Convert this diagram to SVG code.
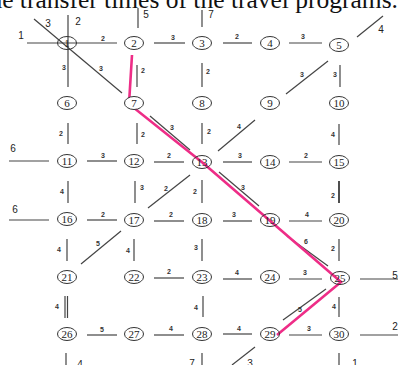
<svg xmlns="http://www.w3.org/2000/svg" width="398" height="365" viewBox="0 0 398 365">
<style>
.e{stroke:#444;stroke-width:1.2;fill:none}
.ed{stroke:#222;stroke-width:1.6;fill:none}
.n ellipse{fill:#fff;stroke:#333;stroke-width:1}
.n text{font-family:"Liberation Serif",serif;font-size:11px;fill:#222;text-anchor:middle}
.s{font-family:"Liberation Sans",sans-serif;font-size:7px;font-weight:bold;fill:#333;text-anchor:middle}
.o{font-family:"Liberation Sans",sans-serif;font-size:10px;fill:#222;text-anchor:middle}
.t{font-family:"Liberation Serif",serif;font-size:25.5px;fill:#111}
.p{stroke:#ee2d87;stroke-width:2.6;fill:none;stroke-linejoin:miter}
</style>
<rect width="398" height="365" fill="#fff"/>
<text class="t" x="398" y="8" text-anchor="end">the transfer times of the travel programs.</text>
<g id="connectors">
<line class="e" x1="27" y1="43" x2="117" y2="43"/>
<line class="e" x1="154" y1="43" x2="185" y2="43"/>
<line class="e" x1="223" y1="43" x2="252" y2="43"/>
<line class="e" x1="289" y1="43" x2="322" y2="43"/>
<line class="e" x1="9" y1="161" x2="49" y2="161"/>
<line class="e" x1="87" y1="161" x2="117" y2="161"/>
<line class="e" x1="154" y1="162" x2="184" y2="162"/>
<line class="e" x1="223" y1="162" x2="252" y2="162"/>
<line class="e" x1="289" y1="162" x2="322" y2="162"/>
<line class="e" x1="9" y1="220" x2="49" y2="220"/>
<line class="e" x1="87" y1="220" x2="117" y2="220"/>
<line class="e" x1="154" y1="221" x2="184" y2="221"/>
<line class="e" x1="223" y1="221" x2="252" y2="221"/>
<line class="e" x1="289" y1="221" x2="322" y2="221"/>
<line class="e" x1="154" y1="278" x2="184" y2="278"/>
<line class="e" x1="223" y1="279" x2="252" y2="279"/>
<line class="e" x1="289" y1="279" x2="322" y2="279"/>
<line class="e" x1="360" y1="279" x2="398" y2="279"/>
<line class="e" x1="87" y1="335" x2="117" y2="335"/>
<line class="e" x1="154" y1="335" x2="184" y2="335"/>
<line class="e" x1="223" y1="334" x2="252" y2="334"/>
<line class="e" x1="289" y1="335" x2="322" y2="335"/>
<line class="e" x1="360" y1="335" x2="398" y2="335"/>
<line class="e" x1="68" y1="15" x2="68" y2="87"/>
<line class="e" x1="138" y1="8" x2="138" y2="28"/>
<line class="e" x1="202" y1="10" x2="202" y2="27"/>
<line class="e" x1="137" y1="65" x2="137" y2="87"/>
<line class="e" x1="202" y1="63" x2="202" y2="87"/>
<line class="e" x1="340" y1="65" x2="340" y2="87"/>
<line class="e" x1="68" y1="123" x2="68" y2="144"/>
<line class="e" x1="137" y1="123" x2="137" y2="144"/>
<line class="e" x1="202" y1="123" x2="202" y2="144"/>
<line class="e" x1="339" y1="124" x2="339" y2="145"/>
<line class="e" x1="68" y1="181" x2="68" y2="203"/>
<line class="e" x1="135" y1="181" x2="135" y2="203"/>
<line class="e" x1="202" y1="180" x2="202" y2="203"/>
<line class="ed" x1="339" y1="181" x2="339" y2="203"/>
<line class="e" x1="67" y1="239" x2="67" y2="261"/>
<line class="e" x1="134" y1="239" x2="134" y2="261"/>
<line class="e" x1="202" y1="239" x2="202" y2="261"/>
<line class="e" x1="339" y1="239" x2="339" y2="261"/>
<line class="e" x1="65" y1="296" x2="65" y2="318"/>
<line class="e" x1="67.5" y1="296" x2="67.5" y2="318"/>
<line class="e" x1="203" y1="296" x2="203" y2="317"/>
<line class="e" x1="339" y1="297" x2="339" y2="317"/>
<line class="e" x1="66" y1="353" x2="66" y2="365"/>
<line class="e" x1="202" y1="353" x2="202" y2="365"/>
<line class="e" x1="339" y1="353" x2="339" y2="365"/>
<line class="e" x1="34" y1="19" x2="122" y2="93"/>
<line class="e" x1="357" y1="37" x2="383" y2="16"/>
<line class="e" x1="328" y1="61" x2="286" y2="94"/>
<line class="e" x1="218" y1="151" x2="255" y2="120"/>
<line class="e" x1="150" y1="116" x2="190" y2="150"/>
<line class="e" x1="190" y1="175" x2="148" y2="208"/>
<line class="e" x1="219" y1="172" x2="259" y2="206"/>
<line class="e" x1="81" y1="264" x2="121" y2="231"/>
<line class="e" x1="287" y1="236" x2="328" y2="266"/>
<line class="e" x1="326" y1="289" x2="283" y2="320"/>
<line class="e" x1="255" y1="347" x2="232" y2="365"/>
<polyline class="p" points="132,55 129,104 203,163 341,282 277,335"/>
<text class="s" x="103" y="41">2</text>
<text class="s" x="173" y="40">3</text>
<text class="s" x="237" y="39">2</text>
<text class="s" x="303" y="39">3</text>
<text class="s" x="103" y="158">3</text>
<text class="s" x="169" y="158">2</text>
<text class="s" x="240" y="158">3</text>
<text class="s" x="306" y="158">2</text>
<text class="s" x="103" y="217">2</text>
<text class="s" x="171" y="217">2</text>
<text class="s" x="234" y="217">3</text>
<text class="s" x="307" y="217">4</text>
<text class="s" x="169" y="274">2</text>
<text class="s" x="237" y="275">4</text>
<text class="s" x="305" y="275">3</text>
<text class="s" x="102" y="332">5</text>
<text class="s" x="171" y="331">4</text>
<text class="s" x="239" y="331">4</text>
<text class="s" x="309" y="331">3</text>
<text class="s" x="64" y="70">3</text>
<text class="s" x="143" y="73">2</text>
<text class="s" x="208" y="74">2</text>
<text class="s" x="335" y="77">3</text>
<text class="s" x="61" y="136">2</text>
<text class="s" x="143" y="137">2</text>
<text class="s" x="209" y="134">2</text>
<text class="s" x="333" y="137">4</text>
<text class="s" x="62" y="194">4</text>
<text class="s" x="142" y="190">3</text>
<text class="s" x="195" y="194">2</text>
<text class="s" x="333" y="198">2</text>
<text class="s" x="59" y="252">4</text>
<text class="s" x="128" y="253">4</text>
<text class="s" x="196" y="250">3</text>
<text class="s" x="333" y="251">2</text>
<text class="s" x="57" y="309">4</text>
<text class="s" x="196" y="310">4</text>
<text class="s" x="334" y="309">4</text>
<text class="s" x="101" y="71">3</text>
<text class="s" x="302" y="77">3</text>
<text class="s" x="239" y="129">4</text>
<text class="s" x="172" y="130">3</text>
<text class="s" x="166" y="191">2</text>
<text class="s" x="243" y="190">3</text>
<text class="s" x="98" y="246">5</text>
<text class="s" x="306" y="244">6</text>
<text class="s" x="300" y="312">5</text>
<text class="o" x="21" y="39">1</text>
<text class="o" x="48" y="27">3</text>
<text class="o" x="78" y="25">2</text>
<text class="o" x="146" y="18">5</text>
<text class="o" x="211" y="18">7</text>
<text class="o" x="381" y="33">4</text>
<text class="o" x="13" y="152">6</text>
<text class="o" x="15" y="213">6</text>
<text class="o" x="395" y="279">5</text>
<text class="o" x="395" y="330">2</text>
<text class="o" x="80" y="368">4</text>
<text class="o" x="192" y="367">7</text>
<text class="o" x="250" y="367">3</text>
<text class="o" x="355" y="367">1</text>
</g>
<g id="n1" class="n"><ellipse cx="67" cy="43" rx="9.5" ry="6.5" fill-opacity="0"/><text x="67" y="47">1</text></g>
<g id="n2" class="n"><ellipse cx="134" cy="43" rx="9.5" ry="6.5"/><text x="134" y="47">2</text></g>
<g id="n3" class="n"><ellipse cx="202" cy="43" rx="9.5" ry="6.5"/><text x="202" y="47">3</text></g>
<g id="n4" class="n"><ellipse cx="270" cy="43" rx="9.5" ry="6.5"/><text x="270" y="47">4</text></g>
<g id="n5" class="n"><ellipse cx="339" cy="45" rx="9.5" ry="6.5"/><text x="339" y="49">5</text></g>
<g id="n6" class="n"><ellipse cx="67" cy="103" rx="9.5" ry="6.5"/><text x="67" y="107">6</text></g>
<g id="n7" class="n"><ellipse cx="134" cy="103" rx="9.5" ry="6.5"/><text x="134" y="107">7</text></g>
<g id="n8" class="n"><ellipse cx="202" cy="103" rx="9.5" ry="6.5"/><text x="202" y="107">8</text></g>
<g id="n9" class="n"><ellipse cx="270" cy="103" rx="9.5" ry="6.5"/><text x="270" y="107">9</text></g>
<g id="n10" class="n"><ellipse cx="339" cy="103" rx="9.5" ry="6.5"/><text x="339" y="107">10</text></g>
<g id="n11" class="n"><ellipse cx="67" cy="161" rx="9.5" ry="6.5"/><text x="67" y="165">11</text></g>
<g id="n12" class="n"><ellipse cx="134" cy="161" rx="9.5" ry="6.5"/><text x="134" y="165">12</text></g>
<g id="n13" class="n"><ellipse cx="202" cy="162" rx="9.5" ry="6.5" fill-opacity="0"/><text x="202" y="166">13</text></g>
<g id="n14" class="n"><ellipse cx="270" cy="162" rx="9.5" ry="6.5"/><text x="270" y="166">14</text></g>
<g id="n15" class="n"><ellipse cx="339" cy="162" rx="9.5" ry="6.5"/><text x="339" y="166">15</text></g>
<g id="n16" class="n"><ellipse cx="67" cy="219" rx="9.5" ry="6.5"/><text x="67" y="223">16</text></g>
<g id="n17" class="n"><ellipse cx="134" cy="220" rx="9.5" ry="6.5"/><text x="134" y="224">17</text></g>
<g id="n18" class="n"><ellipse cx="202" cy="220" rx="9.5" ry="6.5"/><text x="202" y="224">18</text></g>
<g id="n19" class="n"><ellipse cx="270" cy="220" rx="9.5" ry="6.5" fill-opacity="0"/><text x="270" y="224">19</text></g>
<g id="n20" class="n"><ellipse cx="339" cy="220" rx="9.5" ry="6.5"/><text x="339" y="224">20</text></g>
<g id="n21" class="n"><ellipse cx="67" cy="277" rx="9.5" ry="6.5"/><text x="67" y="281">21</text></g>
<g id="n22" class="n"><ellipse cx="134" cy="277" rx="9.5" ry="6.5"/><text x="134" y="281">22</text></g>
<g id="n23" class="n"><ellipse cx="202" cy="277" rx="9.5" ry="6.5"/><text x="202" y="281">23</text></g>
<g id="n24" class="n"><ellipse cx="270" cy="277" rx="9.5" ry="6.5"/><text x="270" y="281">24</text></g>
<g id="n25" class="n"><ellipse cx="340" cy="278" rx="9.5" ry="6.5" fill-opacity="0"/><text x="340" y="282">25</text></g>
<g id="n26" class="n"><ellipse cx="67" cy="334" rx="9.5" ry="6.5"/><text x="67" y="338">26</text></g>
<g id="n27" class="n"><ellipse cx="134" cy="334" rx="9.5" ry="6.5"/><text x="134" y="338">27</text></g>
<g id="n28" class="n"><ellipse cx="202" cy="334" rx="9.5" ry="6.5"/><text x="202" y="338">28</text></g>
<g id="n29" class="n"><ellipse cx="270" cy="334" rx="9.5" ry="6.5" fill-opacity="0"/><text x="270" y="338">29</text></g>
<g id="n30" class="n"><ellipse cx="339" cy="334" rx="9.5" ry="6.5"/><text x="339" y="338">30</text></g>
</svg>
